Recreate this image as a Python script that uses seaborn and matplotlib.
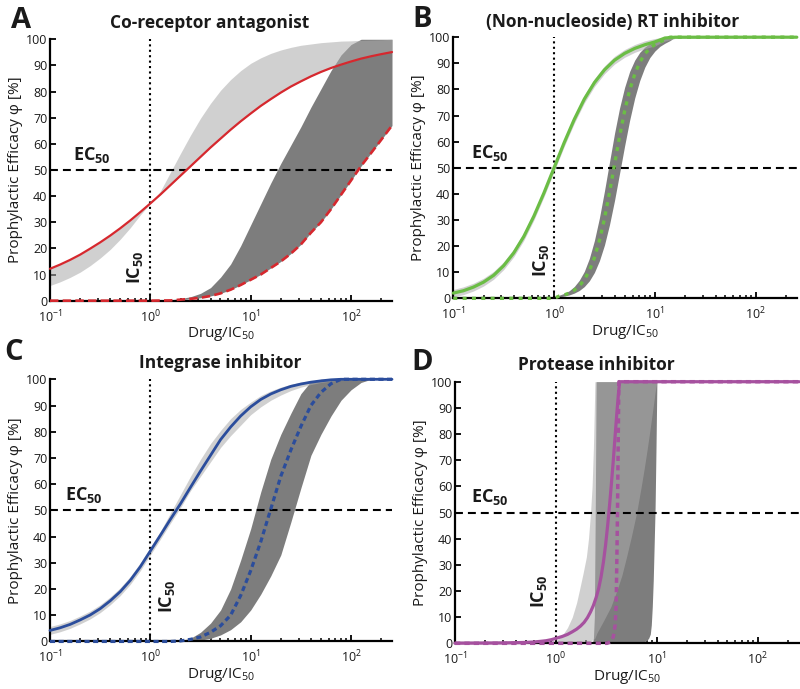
import matplotlib
matplotlib.use("Agg")
import matplotlib.pyplot as plt
import seaborn as sns
from matplotlib.ticker import LogLocator, NullFormatter, FixedLocator

# ---------------- Panel A: Co-receptor antagonist ----------------
a_x = [0.1, 0.1259, 0.1585, 0.1995, 0.2512, 0.3162, 0.3981, 0.5012, 0.631, 0.7943,
       1, 1.259, 1.585, 1.995, 2.512, 3.162, 3.981, 5.012, 6.31, 7.943,
       10, 12.59, 15.85, 19.95, 25.12, 31.62, 39.81, 50.12, 63.1, 79.43,
       100, 125.9, 158.5, 199.5, 256]
a_solid = [12.2, 13.8, 15.6, 17.6, 19.9, 22.3, 24.9, 27.7, 30.7, 33.9,
           37.2, 40.6, 44.2, 47.8, 51.4, 55.0, 58.6, 62.0, 65.4, 68.6,
           71.6, 74.5, 77.1, 79.6, 81.9, 83.9, 85.8, 87.5, 89.0, 90.3,
           91.5, 92.6, 93.5, 94.3, 95.1]
a_light_lo = [5.8, 7.2, 8.9, 10.9, 13.4, 16.3, 19.6, 23.5, 27.9, 32.8,
              37.2, 40.6, 44.2, 47.8, 51.4, 55.0, 58.6, 62.0, 65.4, 68.6,
              71.6, 74.5, 77.1, 79.6, 81.9, 83.9, 85.8, 87.5, 89.0, 90.3,
              91.5, 92.6, 93.5, 94.3, 95.1]
a_light_hi = [12.2, 13.8, 15.6, 17.6, 19.9, 22.3, 24.9, 27.7, 30.7, 33.9,
              37.2, 41.9, 49.1, 56.3, 63.3, 69.8, 75.5, 80.5, 84.6, 88.0,
              90.8, 92.9, 94.6, 95.9, 96.9, 97.7, 98.2, 98.7, 99.0, 99.3,
              99.4, 99.6, 99.7, 99.8, 100]
a_dark_hi = [0, 0, 0, 0, 0, 0, 0, 0, 0, 0,
             0, 0.1, 0.3, 0.8, 1.5, 2.8, 5, 9, 14, 21,
             29, 37, 45, 52.5, 59.5, 66.5, 74, 81, 88, 94,
             98, 100, 100, 100, 100]
a_dashed = [0, 0, 0, 0, 0, 0, 0, 0, 0, 0,
            0, 0.05, 0.1, 0.4, 0.7, 1.1, 1.8, 2.8, 4.2, 6.0,
            8, 10, 12.5, 15, 18, 21.5, 26, 30, 35, 40.5,
            46, 51.5, 56.5, 61.5, 67]

# ---------------- Panel B: (Non-nucleoside) RT inhibitor ----------------
b_x = [0.1, 0.1259, 0.1585, 0.1995, 0.2512, 0.3162, 0.3981, 0.5012, 0.631, 0.7943,
       1, 1.259, 1.585, 1.995, 2.512, 3.162, 3.981, 5.012, 6.31, 7.943,
       10, 12.59, 15.85, 256]
b_solid = [2.0, 2.9, 4.3, 6.2, 8.8, 12.5, 17.4, 23.7, 31.5, 40.4,
           50, 59.6, 68.5, 76.3, 82.6, 87.5, 91.2, 93.8, 95.7, 97.1,
           98.2, 99.7, 100, 100]
b_light_lo = [0.6, 1.4, 2.8, 4.7, 7.3, 11.0, 15.9, 22.2, 30.0, 38.9,
              48.5, 58.1, 67.0, 74.8, 81.1, 86.0, 89.7, 92.3, 94.2, 95.6,
              96.7, 98.5, 99.5, 100]
b_light_hi = [3.4, 4.4, 5.8, 7.7, 10.3, 14.0, 18.9, 25.2, 33.0, 41.9,
              51.5, 61.1, 70.0, 77.8, 84.1, 89.0, 92.7, 95.3, 97.2, 98.6,
              99.5, 100, 100, 100]
b_dark_x = [0.1, 1, 1.122, 1.259, 1.413, 1.585, 1.778, 1.995, 2.239, 2.512,
            2.818, 3.162, 3.548, 3.981, 4.467, 5.012, 5.623, 6.31, 7.079, 7.943,
            8.913, 10, 11.22, 12.59, 14.13, 15.85, 256]
b_dark_hi = [0, 0, 1.2, 1.9, 2.9, 4.5, 6.9, 10.3, 15.3, 22.1,
             30.8, 41.1, 52.2, 63.2, 72.9, 80.8, 86.9, 91.2, 94.2, 96.2,
             97.6, 98.5, 99.3, 100, 100, 100, 100]
b_dashed = [0, 0, 0.85, 1.3, 2.0, 3.1, 4.7, 7.1, 10.6, 15.5,
            22.1, 30.5, 40.5, 51.3, 62.0, 71.7, 79.7, 85.8, 90.4, 93.6,
            95.7, 97.2, 98.2, 99.0, 100, 100, 100]
b_dark_lo = [0, 0, 0.55, 0.85, 1.3, 2.0, 3.0, 4.5, 6.7, 9.9,
             14.4, 20.4, 28.2, 37.5, 47.9, 58.4, 68.2, 76.7, 83.4, 88.5,
             92.2, 94.7, 96.5, 97.7, 98.7, 100, 100]

# ---------------- Panel C: Integrase inhibitor ----------------
c_x = a_x
c_solid = [4.2, 5.2, 6.5, 8.2, 10.1, 12.5, 15.5, 19.0, 23.3, 28.5,
           34.5, 40.5, 46.6, 52.5, 58.8, 65.0, 71.0, 77.0, 81.8, 86.0,
           89.5, 92.3, 94.4, 96.0, 97.3, 98.2, 98.9, 99.4, 99.8, 100,
           100, 100, 100, 100, 100]
c_light_lo = [2.7, 3.7, 5.0, 6.7, 8.6, 11.0, 14.0, 17.5, 21.8, 27.0,
              33.0, 39.0, 45.1, 51.0, 57.5, 63.0, 68.5, 74.0, 78.5, 82.5,
              86.5, 89.5, 92.0, 94.0, 95.7, 97.0, 98.0, 98.8, 99.3, 99.7,
              100, 100, 100, 100, 100]
c_light_hi = [5.7, 6.7, 8.0, 9.7, 11.6, 14.0, 17.0, 20.5, 24.8, 30.0,
              36.0, 42.0, 49.0, 56.0, 63.0, 69.5, 75.5, 80.5, 85.0, 88.5,
              91.3, 93.8, 95.6, 97.0, 98.1, 98.9, 99.4, 99.7, 99.9, 100,
              100, 100, 100, 100, 100]
c_dark_x = [0.1, 1.585, 1.995, 2.512, 3.162, 3.981, 5.012, 6.31, 7.943, 10,
            12.59, 15.85, 19.95, 25.12, 31.62, 39.81, 50.12, 63.1, 79.43, 100,
            125.9, 158.5, 199.5, 256]
c_dark_hi = [0, 0, 0.3, 1.2, 3.5, 7, 12, 20, 31, 43,
             57, 69.5, 79, 87, 94.5, 99.2, 100, 100, 100, 100,
             100, 100, 100, 100]
c_dashed = [0, 0, 0.2, 0.8, 1.7, 3.5, 6, 10, 17.5, 27,
            38, 50.5, 63, 73, 82, 90, 95, 98.3, 100, 100,
            100, 100, 100, 100]
c_dark_lo = [0, 0, 0, 0.3, 0.5, 1.2, 2.5, 4.5, 7.5, 12,
             18, 25, 33, 45.5, 58.5, 71, 79, 86, 92, 96,
             98.8, 100, 100, 100]

# ---------------- Panel D: Protease inhibitor ----------------
d_x = [0.1, 0.2, 0.3, 0.4, 0.5, 0.6, 0.7, 0.8, 0.9, 1.0,
       1.15, 1.3, 1.45, 1.6, 1.75, 1.9, 2.05, 2.2, 2.35, 2.5,
       2.65, 2.8, 2.95, 3.1, 3.25, 3.4, 3.55, 3.7, 3.85, 4.0,
       4.15, 4.27, 256]
d_solid = [0.05, 0.1, 0.15, 0.25, 0.35, 0.5, 0.75, 1.0, 1.4, 1.9,
           2.6, 3.4, 4.4, 5.4, 6.6, 8.0, 9.8, 12, 14.5, 17.5,
           21, 25.5, 31, 37.5, 45, 53, 61.5, 70, 79, 87.5,
           95, 100, 100]
d_dash_x = [0.1, 3.2, 3.45, 3.7, 3.86, 3.95, 4.02, 4.07, 4.13, 4.2, 256]
d_dashed = [0, 0, 0.5, 2.5, 7, 15, 35, 50, 75, 100, 100]
d_light_x = [0.1, 0.7, 1, 1.1, 1.2, 1.3, 1.45, 1.6, 1.7, 1.85,
             2.0, 2.1, 2.2, 2.28, 2.35, 2.4, 2.43, 2.55, 3, 3.5,
             4, 4.5, 5, 5.6, 6.3, 7, 7.5, 8, 8.5, 9,
             9.3, 9.6, 9.8, 10, 256]
d_light_hi = [0, 0, 1, 2.2, 4, 6, 10, 15.5, 20, 26.5,
              33, 40, 50, 60, 75, 90, 100, 100, 100, 100,
              100, 100, 100, 100, 100, 100, 100, 100, 100, 100,
              100, 100, 100, 100, 100]
d_light_lo = [0, 0, 0, 0, 0, 0, 0, 0, 0, 0,
              0.3, 0.6, 1, 1.2, 1.5, 1.8, 2, 4, 9, 14,
              20, 26, 33, 41, 50, 60, 67, 74, 81, 88,
              92, 96, 98, 100, 100]
d_dark_x = [0.1, 2.3, 2.35, 2.4, 2.45, 2.5, 7, 7.5, 8, 8.3,
            8.6, 8.8, 9, 9.2, 9.4, 9.6, 9.8, 10, 256]
d_dark_hi = [0, 0, 2, 10, 50, 100, 100, 100, 100, 100,
             100, 100, 100, 100, 100, 100, 100, 100, 100]
d_dark_lo = [0, 0, 0, 0, 0, 0, 0.3, 0.6, 1.2, 2,
             3.5, 7, 14, 24, 38, 52, 75, 100, 100]

titles = ["Co-receptor antagonist", "(Non-nucleoside) RT inhibitor",
          "Integrase inhibitor", "Protease inhibitor"]
letters = ["A", "B", "C", "D"]
y_ticks = [0, 10, 20, 30, 40, 50, 60, 70, 80, 90, 100]
x_major = [0.1, 1, 10, 100]
x_major_labels = ['$\\mathdefault{10^{-1}}$', '$\\mathdefault{10^{0}}$',
                  '$\\mathdefault{10^{1}}$', '$\\mathdefault{10^{2}}$']

# ---------------- style ----------------
sns.set_theme(style="ticks")
plt.rcParams['font.family'] = ['Open Sans', 'DejaVu Sans']
plt.rcParams['mathtext.fontset'] = 'custom'
plt.rcParams['mathtext.rm'] = 'Open Sans'
plt.rcParams['mathtext.bf'] = 'Open Sans:bold'
plt.rcParams['mathtext.it'] = 'Open Sans:italic'

LIGHT = (0.67, 0.67, 0.67)
LIGHT_ALPHA = 0.55
DARK = (0.49, 0.49, 0.49)
TXT = '#1a1a1a'

fig = plt.figure(figsize=(8, 6.89), dpi=100)
rects = [
    [0.0625, 0.5636, 0.4275, 0.3794],
    [0.5666, 0.5670, 0.4294, 0.3790],
    [0.0625, 0.0690, 0.4275, 0.3805],
    [0.5688, 0.0663, 0.4300, 0.3797],
]

panels = [
    dict(color='#d6282e', lw=1.6, dlw=1.9, dash=(3.2, 1.6),
         sx=a_x, sy=a_solid, lx=a_x, llo=a_light_lo, lhi=a_light_hi,
         dx=a_x, dlo=a_dashed, dhi=a_dark_hi, qx=a_x, qy=a_dashed,
         ec=(0.17, 52), ic=(0.70, 6.5)),
    dict(color='#6bbd45', lw=2.3, dlw=2.4, dash=(1.2, 1.6),
         sx=b_x, sy=b_solid, lx=b_x, llo=b_light_lo, lhi=b_light_hi,
         dx=b_dark_x, dlo=b_dark_lo, dhi=b_dark_hi, qx=b_dark_x, qy=b_dashed,
         ec=(0.15, 52), ic=(0.735, 8)),
    dict(color='#2b4d9c', lw=2.0, dlw=2.3, dash=(1.6, 1.1),
         sx=c_x, sy=c_solid, lx=c_x, llo=c_light_lo, lhi=c_light_hi,
         dx=c_dark_x, dlo=c_dark_lo, dhi=c_dark_hi, qx=c_dark_x, qy=c_dashed,
         ec=(0.14, 52), ic=(1.47, 11)),
    dict(color='#a6519f', lw=2.3, dlw=2.5, dash=(1.5, 1.2),
         sx=d_x, sy=d_solid, lx=d_light_x, llo=d_light_lo, lhi=d_light_hi,
         dx=d_dark_x, dlo=d_dark_lo, dhi=d_dark_hi, qx=d_dash_x, qy=d_dashed,
         ec=(0.145, 52), ic=(0.68, 13.5)),
]

title_pos = [(0.262, 0.959), (0.7656, 0.961), (0.275, 0.466), (0.746, 0.463)]
letter_pos = [(0.014, 0.959), (0.515, 0.961), (0.005, 0.477), (0.514, 0.463)]

for i, p in enumerate(panels):
    ax = fig.add_axes(rects[i])
    ax.set_xscale('log')
    ax.fill_between(p['dx'], p['dlo'], p['dhi'], color=DARK, lw=0, zorder=1)
    ax.fill_between(p['lx'], p['llo'], p['lhi'], color=LIGHT, alpha=LIGHT_ALPHA, lw=0, zorder=1.2)
    ax.axhline(50, color='black', lw=1.5, linestyle=(0, (3.8, 2.4)), zorder=2)
    ax.axvline(1, color='black', lw=1.5, linestyle=(0, (1, 1.6)), zorder=2)
    sns.lineplot(x=p['qx'], y=p['qy'], ax=ax, color=p['color'], lw=p['dlw'],
                 linestyle=(0, p['dash']), estimator=None, zorder=4, clip_on=False)
    sns.lineplot(x=p['sx'], y=p['sy'], ax=ax, color=p['color'], lw=p['lw'],
                 estimator=None, zorder=5, clip_on=False)

    ax.set_xlim(0.1, 256)
    ax.set_ylim(0, 100)
    ax.yaxis.set_major_locator(FixedLocator(y_ticks))
    ax.xaxis.set_major_locator(FixedLocator(x_major))
    ax.xaxis.set_minor_locator(LogLocator(base=10, subs=(2, 3, 4, 5, 6, 7, 8, 9), numticks=20))
    ax.xaxis.set_minor_formatter(NullFormatter())
    ax.set_xticklabels(x_major_labels)
    for s in ['top', 'right']:
        ax.spines[s].set_visible(False)
    for s in ['left', 'bottom']:
        ax.spines[s].set_linewidth(1.6)
        ax.spines[s].set_color('black')
        ax.spines[s].set_zorder(3)
    ax.tick_params(axis='both', which='major', direction='in', length=4, width=1.3,
                   color='black', labelsize=9, labelcolor=TXT, pad=2)
    ax.tick_params(axis='x', which='major', pad=5.5)
    ax.tick_params(axis='x', which='minor', direction='in', length=2.5, width=1.1, color='black')
    ax.set_ylabel('Prophylactic Efficacy φ [%]', fontsize=11, labelpad=2, color=TXT)
    ax.set_xlabel('Drug/IC$_{50}$', fontsize=11, labelpad=0, color=TXT)
    ax.grid(False)
    ax.set_facecolor('white')

    ax.text(p['ec'][0], p['ec'][1], 'EC$_{\\mathbf{50}}$', fontsize=13, fontweight='bold',
            ha='left', va='bottom', color=TXT, zorder=6)
    ax.text(p['ic'][0], p['ic'][1], 'IC$_{\\mathbf{50}}$', fontsize=13, fontweight='bold',
            rotation=90, ha='center', va='bottom', color=TXT, zorder=6)

    fig.text(title_pos[i][0], title_pos[i][1], titles[i], fontsize=12.5, fontweight='bold',
             ha='center', va='baseline', color=TXT)
    fig.text(letter_pos[i][0], letter_pos[i][1], letters[i], fontsize=21, fontweight='bold',
             ha='left', va='baseline', color=TXT)

fig.savefig('out.png', dpi=100, facecolor='white')
